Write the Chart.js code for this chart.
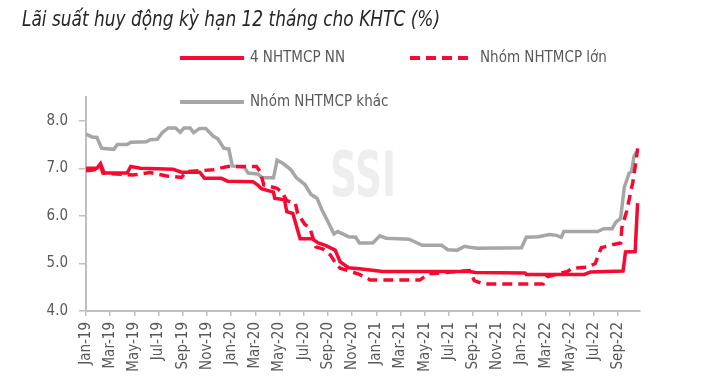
<!DOCTYPE html>
<html lang="vi">
<head>
<meta charset="UTF-8">
<title>Lãi suất huy động kỳ hạn 12 tháng cho KHTC</title>
<script src="https://cdn.jsdelivr.net/npm/chart.js"></script>
<style>
    body { margin: 0; background: #fff; }
    #wrap { width: 713px; height: 389px; }
</style>
</head>
<body>
<div id="wrap"><canvas id="rateChart" width="713" height="389"></canvas></div>
<script>
    // x values are months counted from Jan-19 (0 = Jan-19, 2 = Mar-19, ...)
    const monthNames = ['Jan', 'Feb', 'Mar', 'Apr', 'May', 'Jun', 'Jul', 'Aug', 'Sep', 'Oct', 'Nov', 'Dec'];
    const seriesNames = ['4 NHTMCP NN', 'Nhóm NHTMCP lớn', 'Nhóm NHTMCP khác'];
    const yTicks = [4.0, 5.0, 6.0, 7.0, 8.0];

    // 4 NHTMCP NN
    const nnX = [0.0, 0.9, 1.2, 1.5, 3.4, 3.7, 4.5, 7.2, 7.9, 9.4, 9.8, 11.2, 11.7, 13.8, 14.2, 14.5, 15.5, 15.6, 16.4, 16.6,
        17.1, 17.7, 18.7, 19.2, 19.8, 20.6, 21.0, 21.7, 22.6, 23.5, 24.5, 31.7, 32.2, 36.3, 36.4, 41.2, 41.7, 44.4, 44.6, 45.4, 45.6];
    const nnY = [7.00, 7.00, 7.10, 6.90, 6.90, 7.04, 7.00, 6.98, 6.92, 6.92, 6.79, 6.79, 6.73, 6.72, 6.65, 6.57, 6.50, 6.37, 6.34, 6.09,
        6.05, 5.52, 5.52, 5.43, 5.38, 5.28, 5.04, 4.91, 4.89, 4.86, 4.83, 4.83, 4.81, 4.80, 4.77, 4.77, 4.82, 4.84, 5.24, 5.25, 6.27];

    // Nhóm NHTMCP lớn
    const lonX = [0.0, 0.7, 1.2, 1.4, 3.9, 5.3, 6.7, 7.9, 8.3, 9.4, 10.5, 11.7, 14.1, 14.4, 14.7, 15.8, 16.2, 16.6, 17.3, 17.5,
        18.1, 18.5, 19.0, 19.6, 20.2, 20.7, 21.0, 21.8, 22.6, 23.2, 23.5, 27.6, 28.3, 31.2, 31.7, 32.1, 32.8, 37.8, 38.1, 39.8,
        40.2, 41.5, 42.1, 42.6, 43.6, 44.2, 44.3, 44.7, 45.2, 45.5, 45.6];
    const lonY = [6.95, 6.97, 7.05, 6.90, 6.86, 6.91, 6.84, 6.81, 6.93, 6.95, 6.97, 7.04, 7.04, 6.93, 6.65, 6.58, 6.50, 6.32, 6.27, 6.05,
        5.82, 5.75, 5.35, 5.30, 5.18, 4.98, 4.90, 4.84, 4.77, 4.70, 4.65, 4.65, 4.78, 4.84, 4.85, 4.64, 4.57, 4.57, 4.72, 4.83,
        4.90, 4.92, 5.00, 5.33, 5.40, 5.43, 5.75, 6.10, 6.70, 7.20, 7.42];

    // Nhóm NHTMCP khác
    const khacX = [0.0, 0.5, 0.9, 1.3, 2.3, 2.6, 3.4, 3.7, 5.0, 5.3, 5.9, 6.3, 6.8, 7.4, 7.8, 8.1, 8.6, 8.9, 9.4, 9.9,
        10.5, 10.9, 11.4, 11.8, 12.1, 13.1, 13.4, 14.2, 14.6, 15.5, 15.8, 16.3, 16.9, 17.4, 18.1, 18.6, 19.1, 19.5, 20.0, 20.5,
        20.8, 21.4, 21.7, 22.3, 22.6, 23.7, 24.3, 24.8, 26.7, 27.8, 29.4, 29.9, 30.7, 31.3, 31.7, 32.4, 36.0, 36.4, 37.4, 38.3,
        38.9, 39.3, 39.5, 42.3, 42.8, 43.5, 43.8, 44.2, 44.5, 44.9, 45.1, 45.3, 45.5];
    const khacY = [7.72, 7.66, 7.65, 7.42, 7.40, 7.50, 7.50, 7.55, 7.56, 7.60, 7.61, 7.75, 7.85, 7.85, 7.76, 7.85, 7.85, 7.75, 7.84, 7.84,
        7.68, 7.62, 7.42, 7.41, 7.05, 7.02, 6.90, 6.88, 6.80, 6.80, 7.17, 7.10, 6.98, 6.80, 6.66, 6.45, 6.37, 6.13, 5.88, 5.62,
        5.67, 5.60, 5.56, 5.55, 5.43, 5.43, 5.58, 5.53, 5.51, 5.38, 5.38, 5.29, 5.28, 5.36, 5.34, 5.32, 5.33, 5.55, 5.56, 5.61,
        5.59, 5.55, 5.67, 5.67, 5.73, 5.73, 5.87, 5.95, 6.60, 6.90, 6.93, 7.25, 7.35];

    const RED = '#f50a32';
    const GREY = '#a6a6a6';
    const TEXT = '#595959';
    const FONT = '"DejaVu Sans Condensed", "Liberation Sans", sans-serif';

    function pts(xs, ys) {
        return xs.map((x, i) => ({ x: x, y: ys[i] }));
    }

    function monthLabel(v) {
        const yr = 19 + Math.floor(v / 12);
        return monthNames[v % 12] + '-' + yr;
    }

    // text squeezed horizontally to look like a narrow face
    function narrowText(ctx, txt, x, y, width) {
        const w = ctx.measureText(txt).width;
        ctx.save();
        ctx.translate(x, y);
        ctx.scale(width / w, 1);
        ctx.fillText(txt, 0, 0);
        ctx.restore();
    }

    // title, legend and watermark drawn on the canvas
    const decorations = {
        id: 'decorations',
        beforeDatasetsDraw(chart) {
            const ctx = chart.ctx;
            ctx.save();
            ctx.fillStyle = '#eeeeee';
            ctx.font = 'bold 62px ' + FONT;
            ctx.textBaseline = 'alphabetic';
            narrowText(ctx, 'SSI', 330, 196, 66);
            ctx.restore();
        },
        afterDraw(chart) {
            const ctx = chart.ctx;
            ctx.save();
            ctx.fillStyle = '#262626';
            ctx.font = 'italic 21px ' + FONT;
            ctx.textBaseline = 'middle';
            narrowText(ctx, 'Lãi suất huy động kỳ hạn 12 tháng cho KHTC (%)', 22, 21, 418);

            const items = [
                { x: 180, y: 58, color: RED, dash: [] },
                { x: 410, y: 58, color: RED, dash: [10, 6] },
                { x: 180, y: 102, color: GREY, dash: [] }
            ];
            items.forEach((it, i) => {
                ctx.beginPath();
                ctx.strokeStyle = it.color;
                ctx.lineWidth = 4;
                ctx.setLineDash(it.dash);
                ctx.moveTo(it.x, it.y);
                ctx.lineTo(it.x + 64, it.y);
                ctx.stroke();
                ctx.setLineDash([]);
                ctx.fillStyle = TEXT;
                ctx.font = '15px ' + FONT;
                ctx.fillText(seriesNames[i], it.x + 70, it.y);
            });
            ctx.restore();
        }
    };

    new Chart(document.getElementById('rateChart'), {
        type: 'line',
        data: {
            datasets: [
                {
                    label: seriesNames[0],
                    data: pts(nnX, nnY),
                    borderColor: RED,
                    borderWidth: 3.5,
                    order: 1
                },
                {
                    label: seriesNames[1],
                    data: pts(lonX, lonY),
                    borderColor: RED,
                    borderWidth: 3.5,
                    borderDash: [10, 6],
                    order: 0
                },
                {
                    label: seriesNames[2],
                    data: pts(khacX, khacY),
                    borderColor: GREY,
                    borderWidth: 3.5,
                    order: 2
                }
            ]
        },
        options: {
            responsive: false,
            animation: false,
            devicePixelRatio: 1,
            elements: { point: { radius: 0 }, line: { tension: 0, fill: false } },
            layout: { padding: { left: 36, right: 73, top: 97, bottom: 18 } },
            plugins: {
                legend: { display: false },
                tooltip: { enabled: false }
            },
            scales: {
                x: {
                    type: 'linear',
                    min: 0,
                    max: 45.8,
                    afterBuildTicks: s => { s.ticks = s.ticks.filter(t => t.value % 2 === 0); },
                    afterFit: s => { s.height = 60; },
                    ticks: {
                        stepSize: 2,
                        autoSkip: false,
                        maxRotation: 90,
                        minRotation: 90,
                        color: TEXT,
                        font: { family: FONT, size: 15 },
                        padding: 6,
                        callback: v => monthLabel(v)
                    },
                    grid: { drawOnChartArea: false, tickLength: 5, color: '#bfbfbf', lineWidth: 1.5 },
                    border: { color: '#bfbfbf', width: 2 }
                },
                y: {
                    min: 4,
                    max: 8.5,
                    afterBuildTicks: s => { s.ticks = yTicks.map(v => ({ value: v })); },
                    afterFit: s => { s.width = 50; },
                    ticks: {
                        stepSize: 1,
                        color: TEXT,
                        font: { family: FONT, size: 15 },
                        padding: 11,
                        callback: v => v.toFixed(1)
                    },
                    grid: { drawOnChartArea: false, tickLength: 7, color: '#bfbfbf', lineWidth: 1.5 },
                    border: { color: '#bfbfbf', width: 2 }
                }
            }
        },
        plugins: [decorations]
    });
</script>
</body>
</html>
